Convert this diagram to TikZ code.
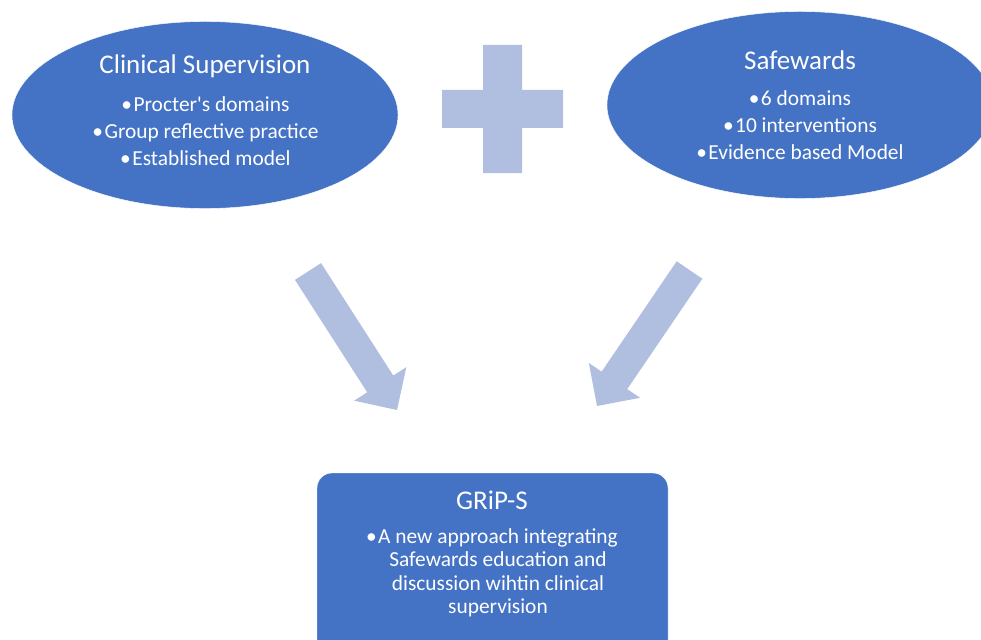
\documentclass[tikz,border=0pt]{standalone}
\usepackage{fontspec}
\setmainfont{Carlito}
\usepackage{xcolor}
\definecolor{gripblue}{RGB}{68,114,196}
\definecolor{gripsky}{RGB}{176,190,224}
\usetikzlibrary{shapes.geometric, positioning, calc}

\tikzset{
  bubble/.style={ellipse, fill=gripblue, draw=white, thin, inner sep=0,
                 minimum width=386, minimum height=187},
  gripbox/.style={rectangle, fill=gripblue, draw=white, thin, rounded corners=15pt,
                  inner sep=0, minimum width=351, minimum height=190},
  headtext/.style={text=white, font=\fontsize{27}{32}\selectfont},
  itemtext/.style={text=white, align=center, font=\fontsize{21.4}{27}\selectfont},
  fatarrow/.style={fill=gripsky}
}
% hanging bullet in front of a centred line
\newcommand{\pt}{\llap{•\kern1.5pt}}

\begin{document}
\begin{tikzpicture}[x=1pt, y=-1pt]
  \useasboundingbox (0,0) rectangle (981,639);
  \clip (0,0) rectangle (981,639);

  % the two ingredients
  \node[bubble] (clin) at (205,115) {};
  \node[headtext] (clinhead) at (205,66) {Clinical Supervision};
  \node[itemtext] (clinitems) at (211.5,131)
       {\pt Procter\textquotesingle s domains\\ \pt Group reflective practice\\ \pt Established model};

  \node[bubble] (safe) at (800,105) {};
  \node[headtext] (safehead) at (800,60) {Safewards};
  \node[itemtext] (safeitems) at (806,125)
       {\pt 6 domains\\ \pt 10 interventions\\ \pt Evidence based Model};

  % plus sign between them
  \fill[gripsky] (483,45) -- (522,45) -- (522,90) -- (563,90) -- (563,128) -- (522,128)
       -- (522,173) -- (483,173) -- (483,128) -- (442,128) -- (442,90) -- (483,90) -- cycle;

  % result box
  \node[gripbox] (grip) at (492.5,568) {};
  \node[headtext] (griphead) at (492,500) {GRiP-S};
  \node[itemtext, font=\fontsize{21.4}{23.5}\selectfont] (gripitems) at (498,573)
       {\pt A new approach integrating\\ Safewards education and\\ discussion wihtin clinical\\ supervision};

  % block arrows down to the box
  \coordinate (clinout) at (308,271.5);
  \coordinate (gripinl) at (397,410);
  \coordinate (safeout) at (689.5,270);
  \coordinate (gripinr) at (597,406);
  \foreach \from/\to in {clinout/gripinl, safeout/gripinr}
    \fill[fatarrow] ($(\from)!15.5pt!90:(\to)$)
      -- ($(\to)!31pt!(\from)!15.5pt!-90:(\from)$)
      -- ($(\to)!31pt!(\from)!31pt!-90:(\from)$)
      -- (\to)
      -- ($(\to)!31pt!(\from)!31pt!90:(\from)$)
      -- ($(\to)!31pt!(\from)!15.5pt!90:(\from)$)
      -- ($(\from)!15.5pt!-90:(\to)$) -- cycle;
\end{tikzpicture}
\end{document}
